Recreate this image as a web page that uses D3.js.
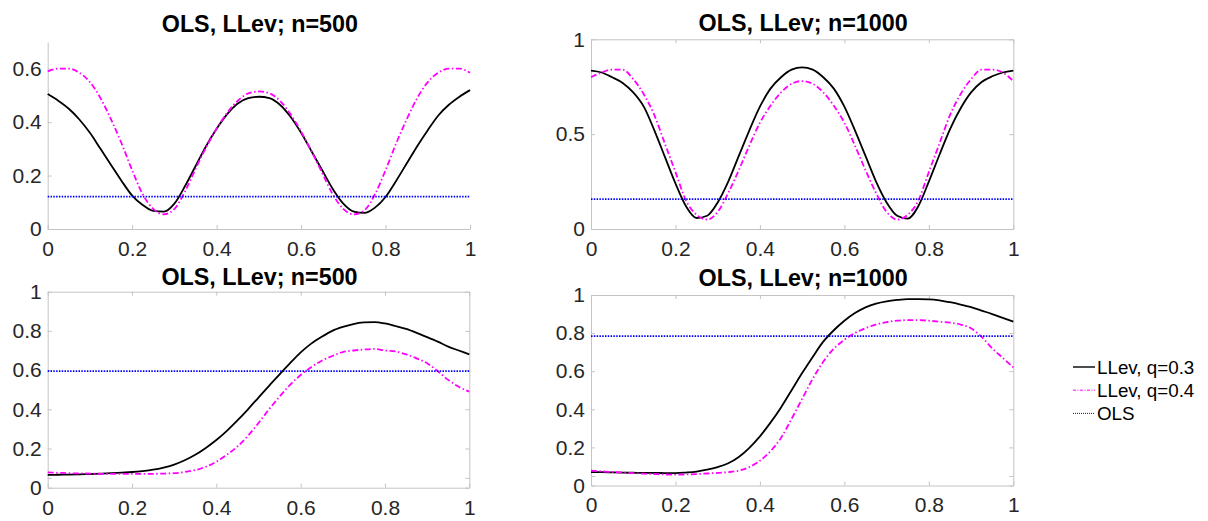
<!DOCTYPE html>
<html>
<head>
<meta charset="utf-8">
<script src="https://cdn.jsdelivr.net/npm/d3@7"></script>
<style>
  html, body { margin: 0; padding: 0; background: #fff; }
  svg { display: block; font-family: "Liberation Sans", Arial, Helvetica, sans-serif; }
  .domain, .tick line { stroke: #c4c4c4; }
</style>
</head>
<body>
<svg id="chart" width="1208" height="521"></svg>
<script>
// ---------------- DATA ----------------
const xGrid = [0,0.025,0.05,0.075,0.1,0.125,0.15,0.175,0.2,0.225,0.25,0.275,0.3,0.325,0.35,0.375,0.4,0.425,0.45,0.475,0.5,
               0.525,0.55,0.575,0.6,0.625,0.65,0.675,0.7,0.725,0.75,0.775,0.8,0.825,0.85,0.875,0.9,0.925,0.95,0.975,1];

const titles = ["OLS, LLev; n=500", "OLS, LLev; n=1000", "OLS, LLev; n=500", "OLS, LLev; n=1000"];
const seriesNames = ["LLev, q=0.3", "LLev, q=0.4", "OLS"];

// Top-left (n=500)
const tl_q03 = [0.505,0.48,0.45,0.41,0.36,0.30,0.24,0.18,0.125,0.09,0.068,0.065,0.095,0.16,0.235,0.31,0.375,0.43,0.47,0.49,0.495,
                0.49,0.465,0.42,0.36,0.29,0.22,0.15,0.095,0.065,0.06,0.08,0.12,0.18,0.245,0.31,0.37,0.425,0.465,0.495,0.52];
const tl_q04 = [0.59,0.60,0.60,0.585,0.55,0.49,0.41,0.32,0.22,0.13,0.075,0.055,0.075,0.14,0.225,0.305,0.375,0.435,0.48,0.508,0.515,
                0.508,0.48,0.43,0.365,0.29,0.21,0.13,0.075,0.055,0.07,0.13,0.22,0.32,0.41,0.49,0.55,0.585,0.60,0.60,0.585];
const tl_ols = 0.121;

// Top-right (n=1000)
const tr_q03 = [0.835,0.825,0.80,0.77,0.72,0.645,0.52,0.38,0.24,0.12,0.058,0.07,0.14,0.25,0.385,0.52,0.645,0.74,0.80,0.84,0.852,
                0.84,0.80,0.74,0.645,0.52,0.385,0.25,0.14,0.07,0.055,0.12,0.25,0.39,0.525,0.635,0.72,0.775,0.805,0.825,0.835];
const tr_q04 = [0.80,0.825,0.84,0.84,0.79,0.71,0.60,0.45,0.30,0.15,0.075,0.05,0.09,0.19,0.31,0.44,0.56,0.65,0.72,0.765,0.78,
                0.765,0.72,0.65,0.56,0.44,0.31,0.19,0.09,0.05,0.075,0.15,0.30,0.45,0.60,0.71,0.79,0.84,0.84,0.825,0.78];
const tr_ols = 0.157;

// Bottom-left (n=500)
const bl_q03 = [0.065,0.066,0.067,0.068,0.07,0.072,0.074,0.077,0.08,0.085,0.092,0.103,0.118,0.14,0.168,0.203,0.243,0.29,0.343,0.40,0.46,
                0.52,0.578,0.635,0.69,0.735,0.77,0.80,0.82,0.835,0.843,0.845,0.838,0.825,0.81,0.79,0.768,0.745,0.72,0.70,0.68];
const bl_q04 = [0.078,0.076,0.074,0.073,0.072,0.071,0.071,0.071,0.071,0.071,0.071,0.072,0.074,0.08,0.09,0.107,0.133,0.168,0.21,0.265,0.33,
                0.40,0.465,0.525,0.575,0.615,0.648,0.672,0.692,0.70,0.705,0.708,0.70,0.695,0.68,0.66,0.635,0.595,0.55,0.515,0.49];
const bl_ols = 0.595;

// Bottom-right (n=1000)
const br_q03 = [0.07,0.07,0.069,0.068,0.067,0.066,0.066,0.065,0.065,0.068,0.073,0.083,0.097,0.117,0.15,0.198,0.258,0.33,0.41,0.50,0.59,
                0.675,0.755,0.815,0.865,0.905,0.935,0.955,0.967,0.974,0.978,0.978,0.977,0.972,0.962,0.95,0.936,0.918,0.90,0.88,0.86];
const br_q04 = [0.078,0.074,0.071,0.068,0.065,0.062,0.06,0.058,0.057,0.058,0.06,0.063,0.066,0.07,0.078,0.097,0.13,0.18,0.25,0.35,0.455,
                0.56,0.65,0.718,0.765,0.80,0.826,0.845,0.858,0.865,0.868,0.868,0.865,0.86,0.855,0.845,0.825,0.78,0.72,0.67,0.62];
const br_ols = 0.784;

const xTicks = [0, 0.2, 0.4, 0.6, 0.8, 1];
const yTicksTL = [0, 0.2, 0.4, 0.6];
const yTicksTR = [0, 0.5, 1];
const yTicksB = [0, 0.05, 0.2, 0.4, 0.6, 0.8, 1];
const yLabelsB = ["0", "", "0.2", "0.4", "0.6", "0.8", "1"];

// ---------------- LAYOUT / STYLE ----------------
const panels = [
  { title: titles[0], x0: 47.7, x1: 470,    y0: 229,   y1: 42,    ymax: 0.7, yt: yTicksTL, yl: null, box: false, q3: tl_q03, q4: tl_q04, ols: tl_ols, ty: 32 },
  { title: titles[1], x0: 591,  x1: 1013.3, y0: 229,   y1: 39.3,  ymax: 1,   yt: yTicksTR, yl: null, box: true,  q3: tr_q03, q4: tr_q04, ols: tr_ols, ty: 31 },
  { title: titles[2], x0: 47.7, x1: 469.3,  y0: 487.7, y1: 291.7, ymax: 1,   yt: yTicksB,  yl: yLabelsB, box: true, q3: bl_q03, q4: bl_q04, ols: bl_ols, ty: 285 },
  { title: titles[3], x0: 591,  x1: 1013.3, y0: 485.5, y1: 295,   ymax: 1,   yt: yTicksB,  yl: yLabelsB, box: true, q3: br_q03, q4: br_q04, ols: br_ols, ty: 286 }
];

const styles = [
  { color: "#000000", dash: null,          width: 1.8 },
  { color: "#ff00ff", dash: "6,2.5,1.5,2.5", width: 1.8 },
  { color: "#0000ff", dash: "1.5,1.3",     width: 1.8 }
];

const FONT = '"Liberation Sans", Arial, Helvetica, sans-serif';
const svg = d3.select("#chart");

panels.forEach(p => {
  const x = d3.scaleLinear().domain([0, 1]).range([p.x0, p.x1]);
  const y = d3.scaleLinear().domain([0, p.ymax]).range([p.y0, p.y1]);
  const g = svg.append("g");

  const fmt = d => d3.format("~g")(d);

  // bottom axis
  g.append("g").attr("transform", `translate(0,${p.y0})`)
    .call(d3.axisBottom(x).tickValues(xTicks).tickFormat(fmt).tickSizeInner(-4).tickSizeOuter(0).tickPadding(12));
  // left axis
  g.append("g").attr("transform", `translate(${p.x0},0)`)
    .call(d3.axisLeft(y).tickValues(p.yt)
      .tickFormat((d, i) => p.yl ? p.yl[i] : fmt(d))
      .tickSizeInner(-4).tickSizeOuter(0).tickPadding(6));

  if (p.box) {
    g.append("g").attr("transform", `translate(0,${p.y1})`)
      .call(d3.axisTop(x).tickValues(xTicks).tickFormat("").tickSizeInner(-4).tickSizeOuter(0));
    g.append("g").attr("transform", `translate(${p.x1},0)`)
      .call(d3.axisRight(y).tickValues(p.yt).tickFormat("").tickSizeInner(-4).tickSizeOuter(0));
  }
  g.selectAll("g").attr("font-family", FONT).attr("font-size", 21);
  g.selectAll(".tick text").style("font-size", "21px").style("font-family", FONT).attr("fill", "#262626");

  // series
  const line = d3.line().x((d, i) => x(xGrid[i])).y(d => y(d)).curve(d3.curveMonotoneX);
  [p.q3, p.q4].forEach((vals, k) => {
    g.append("path").datum(vals)
      .attr("d", line)
      .attr("fill", "none")
      .attr("stroke", styles[k].color)
      .attr("stroke-width", styles[k].width)
      .attr("stroke-dasharray", styles[k].dash);
  });
  g.append("line")
    .attr("x1", x(0)).attr("x2", x(1))
    .attr("y1", y(p.ols)).attr("y2", y(p.ols))
    .attr("stroke", styles[2].color)
    .attr("stroke-width", styles[2].width)
    .attr("stroke-dasharray", styles[2].dash);

  // title
  g.append("text")
    .attr("x", (p.x0 + p.x1) / 2 + 1)
    .attr("y", p.ty)
    .attr("text-anchor", "middle")
    .attr("font-weight", "bold")
    .style("font-size", "23.3px")
    .style("font-family", FONT)
    .attr("fill", "#000")
    .text(p.title);
});

// legend
const leg = svg.append("g").attr("transform", "translate(1073,367)");
seriesNames.forEach((name, i) => {
  const row = leg.append("g").attr("transform", `translate(0,${i * 23.2})`);
  row.append("line").attr("x1", 0).attr("x2", 22).attr("y1", 0).attr("y2", 0)
    .attr("stroke", styles[i].color)
    .attr("stroke-width", i === 0 ? 1.4 : 1)
    .attr("stroke-dasharray", styles[i].dash ? (i === 1 ? "3,1.5,1,1.5" : "1,1") : null);
  row.append("text").attr("x", 24).attr("y", 6.5)
    .style("font-size", "18.8px").style("font-family", FONT)
    .attr("fill", "#000").text(name);
});
</script>
</body>
</html>
